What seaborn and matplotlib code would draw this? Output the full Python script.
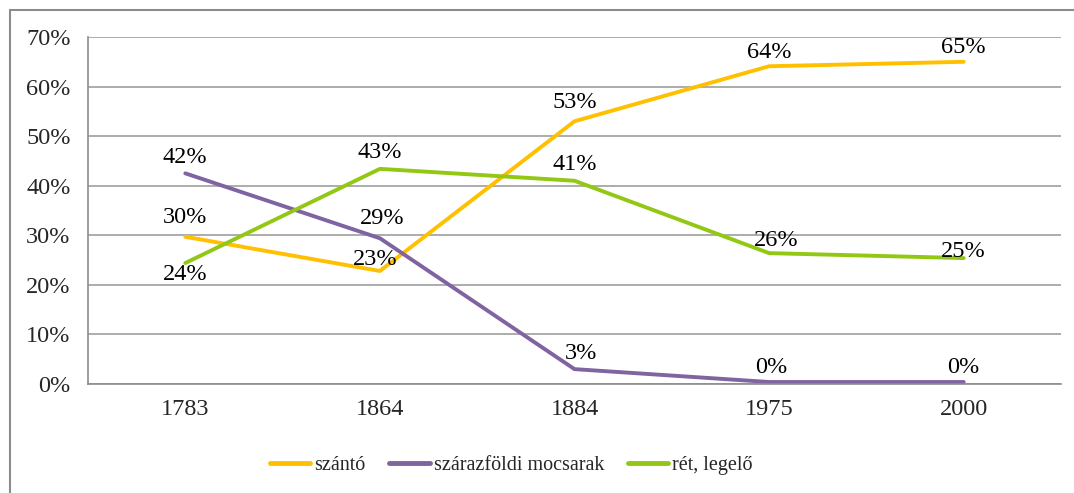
import pandas as pd
import numpy as np
import matplotlib.pyplot as plt
from matplotlib.lines import Line2D
import seaborn as sns

# data
years = ['1783', '1864', '1884', '1975', '2000']
szanto = [29.7, 22.8, 53.0, 64.1, 65.0]
mocsarak = [42.5, 29.4, 3.0, 0.4, 0.4]
ret_legelo = [24.4, 43.4, 41.0, 26.4, 25.4]
series_names = ['szántó', 'szárazföldi mocsarak', 'rét, legelő']
y_ticks = [0, 10, 20, 30, 40, 50, 60, 70]

colors = ['#FFC000', '#8064A2', '#92C814']

# label offsets in pixels (dx, dy) per series
label_offsets = {
    'szántó': [(0, 19), (-5, 11), (0, 19), (0, 14), (0, 14)],
    'szárazföldi mocsarak': [(0, 16), (2, 20), (6, 16), (2, 15), (0, 15)],
    'rét, legelő': [(0, -11), (0, 16), (0, 16), (7, 13), (0, 7)],
}

rows = []
for name, vals in zip(series_names, [szanto, mocsarak, ret_legelo]):
    for i, (yr, v) in enumerate(zip(years, vals)):
        rows.append({'pos': i, 'year': yr, 'value': v, 'series': name})
df = pd.DataFrame(rows)

sns.set_style('white')
plt.rcParams['font.family'] = ['Liberation Serif', 'DejaVu Serif']
fs = 17.5

fig = plt.figure(figsize=(10.74, 4.93), dpi=100)
ax = fig.add_axes([88 / 1074, 1 - 384 / 493, (1061 - 88) / 1074, (384 - 37) / 493])

sns.lineplot(data=df, x='pos', y='value', hue='series', hue_order=series_names,
             palette=colors, linewidth=2.8, ax=ax, legend=False, sort=False)

for name in series_names:
    sub = df[df['series'] == name]
    for (_, r), (dx, dy) in zip(sub.iterrows(), label_offsets[name]):
        ax.annotate(f"{r['value']:.0f}%", (r['pos'], r['value']),
                    xytext=(dx, dy), textcoords='offset pixels',
                    ha='center', va='center', fontsize=fs, color='black')

ax.set_xlim(-0.5, len(years) - 0.5)
ax.set_ylim(0, 70)
ax.set_yticks(y_ticks)
ax.set_yticklabels([f'{t}%' for t in y_ticks], fontsize=fs)
ax.set_xticks(range(len(years)))
ax.set_xticklabels(years, fontsize=fs)
ax.set_xticks(np.arange(-0.5, len(years), 1.0), minor=True)
ax.tick_params(axis='x', which='major', length=0, pad=11)
ax.tick_params(axis='x', which='minor', length=4.5, color='#8c8c8c', width=1.2, direction='out')
ax.tick_params(axis='y', length=4.5, color='#8c8c8c', width=1.2, direction='out', pad=8)
ax.grid(axis='y', color='#a6a6a6', linewidth=1.3)
ax.set_xlabel('')
ax.set_ylabel('')
for side in ['top', 'right']:
    ax.spines[side].set_visible(False)
for side in ['left', 'bottom']:
    ax.spines[side].set_color('#8c8c8c')
    ax.spines[side].set_linewidth(1.2)

handles = [Line2D([0], [0], color=c, linewidth=3.5) for c in colors]
fig.legend(handles, series_names, loc='center', bbox_to_anchor=(0.476, 1 - 465 / 493),
           ncol=3, frameon=False, fontsize=14.5, handlelength=2.0, handletextpad=0.2,
           columnspacing=1.2)

# outer chart border (left and top visible)
fig.add_artist(Line2D([10 / 1074, 10 / 1074], [0, 1 - 10 / 493], color='#8c8c8c', linewidth=1.5))
fig.add_artist(Line2D([10 / 1074, 1], [1 - 10 / 493, 1 - 10 / 493], color='#8c8c8c', linewidth=1.5))

fig.savefig('out.png', dpi=100)
